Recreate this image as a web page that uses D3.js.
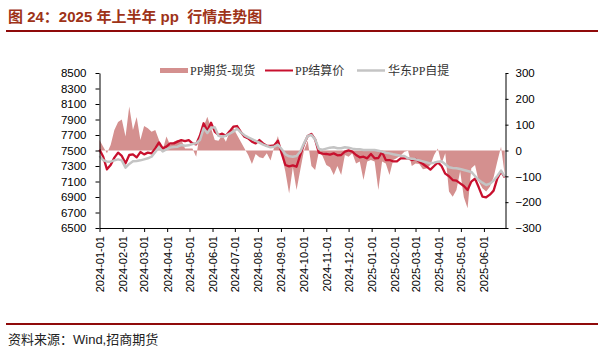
<!DOCTYPE html>
<html>
<head>
<meta charset="utf-8">
<script src="https://cdn.jsdelivr.net/npm/d3@7"></script>
<style>
  body { margin: 0; background: #fff; }
  svg { display: block; }
</style>
</head>
<body>
<div id="chart"></div>
<script>
const dates = [
  "2024-01-01","2024-01-06","2024-01-11","2024-01-16","2024-01-21","2024-01-26","2024-01-31",
  "2024-02-05","2024-02-10","2024-02-15","2024-02-20","2024-02-25","2024-03-01","2024-03-06",
  "2024-03-11","2024-03-16","2024-03-21","2024-03-26","2024-03-31","2024-04-05","2024-04-10",
  "2024-04-15","2024-04-20","2024-04-25","2024-04-30","2024-05-05","2024-05-10","2024-05-15",
  "2024-05-20","2024-05-25","2024-05-30","2024-06-04","2024-06-09","2024-06-14","2024-06-19",
  "2024-06-24","2024-06-29","2024-07-04","2024-07-09","2024-07-14","2024-07-19","2024-07-24",
  "2024-07-29","2024-08-03","2024-08-08","2024-08-13","2024-08-18","2024-08-23","2024-08-28",
  "2024-09-02","2024-09-07","2024-09-12","2024-09-17","2024-09-22","2024-09-27","2024-10-02",
  "2024-10-07","2024-10-12","2024-10-17","2024-10-22","2024-10-27","2024-11-01","2024-11-06",
  "2024-11-11","2024-11-16","2024-11-21","2024-11-26","2024-12-01","2024-12-06","2024-12-11",
  "2024-12-16","2024-12-21","2024-12-26","2024-12-31","2025-01-05","2025-01-10","2025-01-15",
  "2025-01-20","2025-01-25","2025-01-30","2025-02-04","2025-02-09","2025-02-14","2025-02-19",
  "2025-02-24","2025-03-01","2025-03-06","2025-03-11","2025-03-16","2025-03-21","2025-03-26",
  "2025-03-31","2025-04-05","2025-04-10","2025-04-15","2025-04-20","2025-04-25","2025-04-30",
  "2025-05-05","2025-05-10","2025-05-15","2025-05-20","2025-05-25","2025-05-30","2025-06-04",
  "2025-06-09","2025-06-14","2025-06-19","2025-06-24","2025-06-29"
];

// PP期货-现货 (right axis)
const basis = [
  41, 15, -11, 21, 79, 110, 120, 54, 170, 79, 130, 41, 95, 86, 73, 79, 41, 2, 54, 21, 34,
  41, 41, 8, 8, 8, -24, 66, 92, 131, 86, 41, 38, 60, 34, 73, 86, 60, 34, 8, -17, -52,
  -14, -26, -30, -11, -39, 15, 56, -17, -82, -166, -65, -153, -75, 0, 38, -60, -75, -5, -21,
  -56, -65, -95, -60, -95, -17, -24, -11, -50, -43, -114, -43, -37, -43, -153, -43, -50, -95, -37,
  -29, -19, -5, -1, -60, -50, -52, -73, -70, -56, -17, 8, -50, -11, -159, -179, -153, -80, -181,
  -224, -69, -56, -121, -146, -159, -140, -104, -43, 15, -95
];

// PP结算价 (left axis)
const settle = [
  7511, 7420, 7257, 7313, 7408, 7472, 7430, 7334, 7442, 7450, 7412, 7480, 7450, 7472, 7463,
  7528, 7605, 7528, 7550, 7592, 7592, 7614, 7635, 7622, 7635, 7592, 7580, 7690, 7851, 7756,
  7859, 7743, 7700, 7717, 7691, 7747, 7807, 7816, 7739, 7678, 7657, 7614, 7592, 7635, 7592,
  7562, 7558, 7567, 7627, 7463, 7313, 7296, 7308, 7291, 7442, 7580, 7687, 7713, 7644, 7472,
  7459, 7455, 7446, 7463, 7438, 7442, 7485, 7502, 7485, 7442, 7412, 7420, 7399, 7455, 7399,
  7403, 7481, 7377, 7377, 7360, 7360, 7399, 7399, 7399, 7377, 7390, 7356, 7326, 7291, 7253,
  7300, 7347, 7300, 7201, 7167, 7119, 7111, 7076, 7042, 6990, 7098, 7137, 7025, 6904, 6896,
  6930, 6982, 7141, 7227, 7154
];

// 华东PP自提 (left axis)
const eastSpot = [
  7429, 7377, 7356, 7356, 7373, 7386, 7373, 7278, 7326, 7360, 7365, 7373, 7386, 7399, 7420,
  7481, 7541, 7489, 7515, 7537, 7545, 7549, 7571, 7562, 7567, 7584, 7592, 7635, 7786, 7726,
  7795, 7799, 7691, 7678, 7691, 7717, 7743, 7782, 7734, 7696, 7670, 7648, 7623, 7601, 7575,
  7558, 7541, 7549, 7575, 7515, 7451, 7425, 7420, 7429, 7485, 7592, 7687, 7700, 7644, 7519,
  7511, 7524, 7537, 7541, 7528, 7528, 7541, 7537, 7524, 7515, 7515, 7506, 7506, 7506, 7506,
  7498, 7485, 7472, 7463, 7451, 7442, 7433, 7429, 7399, 7395, 7386, 7373, 7360, 7347, 7334,
  7343, 7356, 7360, 7322, 7283, 7274, 7270, 7261, 7248, 7235, 7223, 7171, 7119, 7085, 7055,
  7072, 7111, 7171, 7240, 7162
];

const leftTicks = [6500, 6700, 6900, 7100, 7300, 7500, 7700, 7900, 8100, 8300, 8500];
const rightTicks = [-300, -200, -100, 0, 100, 200, 300];
const monthTicks = [
  "2024-01-01","2024-02-01","2024-03-01","2024-04-01","2024-05-01","2024-06-01",
  "2024-07-01","2024-08-01","2024-09-01","2024-10-01","2024-11-01","2024-12-01",
  "2025-01-01","2025-02-01","2025-03-01","2025-04-01","2025-05-01","2025-06-01"
];
const legendNames = ["PP期货-现货", "PP结算价", "华东PP自提"];

const width = 600, height = 348;
const parse = d3.timeParse("%Y-%m-%d");
const fmt = d3.timeFormat("%Y-%m-%d");
const sansFont = "'Liberation Sans', Arial, 'Noto Sans CJK SC', sans-serif";
const legendFont = "'Liberation Serif', 'Noto Sans CJK SC', serif";
const titleColor = "#9e3318", ruleColor = "#8f0a0a";
const areaColor = "#d4908f", redColor = "#c8102e", grayColor = "#c4c4c4";

const svg = d3.select("#chart").append("svg")
    .attr("width", width)
    .attr("height", height)
    .attr("viewBox", `0 0 ${width} ${height}`);

// title + rules
svg.append("text")
    .attr("x", 8).attr("y", 22)
    .attr("font-family", sansFont)
    .attr("font-size", 15)
    .attr("font-weight", "bold")
    .attr("fill", titleColor)
    .style("white-space", "pre")
    .text("图 24：2025 年上半年 pp  行情走势图");

svg.append("line")
    .attr("x1", 6).attr("x2", 598).attr("y1", 31).attr("y2", 31)
    .attr("stroke", ruleColor).attr("stroke-width", 2);

svg.append("line")
    .attr("x1", 6).attr("x2", 598).attr("y1", 324).attr("y2", 324)
    .attr("stroke", ruleColor).attr("stroke-width", 2);

svg.append("text")
    .attr("x", 8).attr("y", 344)
    .attr("font-family", sansFont)
    .attr("font-size", 13)
    .attr("fill", "#222")
    .text("资料来源：Wind,招商期货");

// scales
const x = d3.scaleTime()
    .domain([parse("2024-01-01"), parse("2025-06-30")])
    .range([99.5, 505.5]);
const yL = d3.scaleLinear().domain([6500, 8500]).range([228, 73]);
const yR = d3.scaleLinear().domain([-300, 300]).range([228, 73]);

const rows = dates.map((d, i) => ({
    date: parse(d), basis: basis[i], settle: settle[i], spot: eastSpot[i]
}));

// marks
const area = d3.area()
    .x(d => x(d.date))
    .y0(yR(0))
    .y1(d => yR(d.basis));

svg.append("path")
    .datum(rows)
    .attr("d", area)
    .attr("fill", areaColor);

const settleLine = d3.line().x(d => x(d.date)).y(d => yL(d.settle));
const spotLine = d3.line().x(d => x(d.date)).y(d => yL(d.spot));

svg.append("path")
    .datum(rows)
    .attr("d", settleLine)
    .attr("fill", "none")
    .attr("stroke", redColor)
    .attr("stroke-width", 2.3)
    .attr("stroke-linejoin", "round");

svg.append("path")
    .datum(rows)
    .attr("d", spotLine)
    .attr("fill", "none")
    .attr("stroke", grayColor)
    .attr("stroke-width", 2.5)
    .attr("stroke-linejoin", "round");

// axes
function styleAxis(g) {
    g.selectAll("path.domain").attr("stroke", "#000");
    g.selectAll(".tick line").attr("stroke", "#000");
    g.selectAll("text")
        .attr("font-family", sansFont)
        .attr("font-size", 11.5)
        .attr("fill", "#000");
}

svg.append("g")
    .attr("transform", "translate(99.5,0)")
    .call(d3.axisLeft(yL).tickValues(leftTicks).tickFormat(d3.format("d"))
        .tickSize(4).tickSizeOuter(0).tickPadding(9))
    .call(styleAxis);

svg.append("g")
    .attr("transform", "translate(505.5,0)")
    .call(d3.axisRight(yR).tickValues(rightTicks).tickFormat(d3.format("d"))
        .tickSize(3).tickSizeOuter(0).tickPadding(7))
    .call(styleAxis);

const xAxis = svg.append("g")
    .attr("transform", "translate(0,228)")
    .call(d3.axisBottom(x)
        .tickValues(monthTicks.map(parse))
        .tickFormat(fmt)
        .tickSize(4)
        .tickSizeOuter(0))
    .call(styleAxis);

xAxis.selectAll(".tick text")
    .attr("font-size", 11)
    .attr("transform", "rotate(-90)")
    .attr("text-anchor", "end")
    .attr("x", -8)
    .attr("y", 0)
    .attr("dy", "0.35em");

// legend
const legend = svg.append("g").attr("font-family", legendFont).attr("font-size", 12).attr("fill", "#333");

legend.append("rect")
    .attr("x", 160).attr("y", 68).attr("width", 28).attr("height", 5)
    .attr("fill", areaColor);
legend.append("text").attr("x", 190).attr("y", 74.5).text(legendNames[0]);

legend.append("line")
    .attr("x1", 265).attr("x2", 293).attr("y1", 70.5).attr("y2", 70.5)
    .attr("stroke", redColor).attr("stroke-width", 2);
legend.append("text").attr("x", 295).attr("y", 74.5).text(legendNames[1]);

legend.append("line")
    .attr("x1", 357).attr("x2", 385).attr("y1", 70.5).attr("y2", 70.5)
    .attr("stroke", grayColor).attr("stroke-width", 2.5);
legend.append("text").attr("x", 388).attr("y", 74.5).text(legendNames[2]);
</script>
</body>
</html>
